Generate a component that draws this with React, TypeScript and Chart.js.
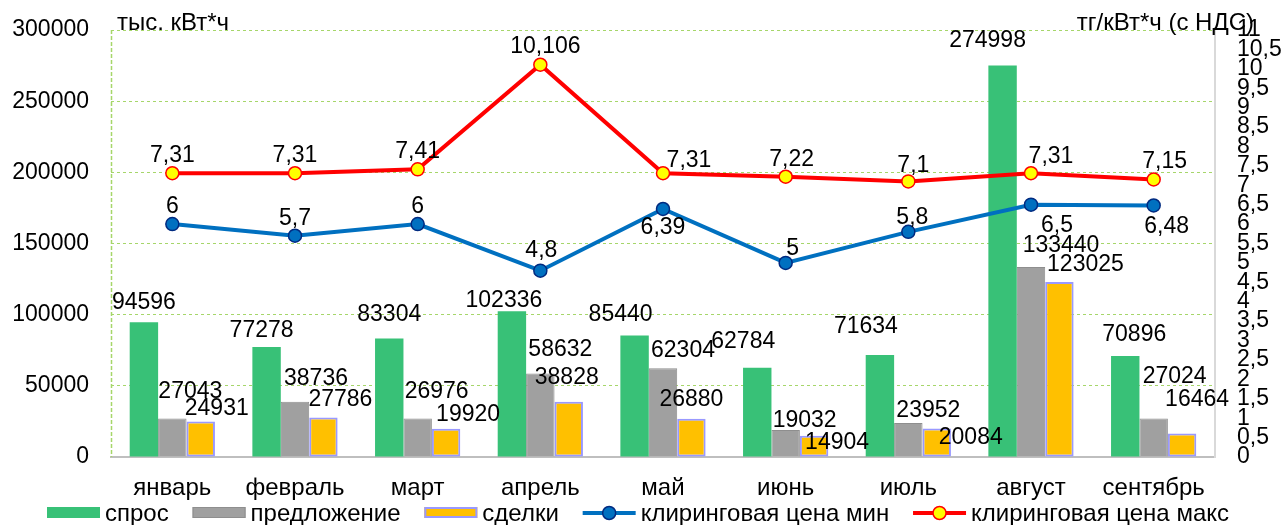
import React, { useEffect, useRef } from "react";
import { Chart, registerables } from "chart.js";

Chart.register(...registerables);

const months = ["январь", "февраль", "март", "апрель", "май", "июнь", "июль", "август", "сентябрь"];
const demand = [94596, 77278, 83304, 102336, 85440, 62784, 71634, 274998, 70896];
const supply = [27043, 38736, 26976, 58632, 62304, 19032, 23952, 133440, 27024];
const deals = [24931, 27786, 19920, 38828, 26880, 14904, 20084, 123025, 16464];
const priceMin = [6, 5.7, 6, 4.8, 6.39, 5, 5.8, 6.5, 6.48];
const priceMax = [7.31, 7.31, 7.41, 10.106, 7.31, 7.22, 7.1, 7.31, 7.15];

const leftTitle = "тыс. кВт*ч";
const rightTitle = "тг/кВт*ч (с НДС)";
const seriesNames = ["спрос", "предложение", "сделки", "клиринговая цена мин", "клиринговая цена макс"];

const W = 1284;
const H = 525;
const FONT_FAMILY = '"Liberation Sans", Arial, sans-serif';
const FONT = `23px ${FONT_FAMILY}`;
const TEXT_FONT = `24px ${FONT_FAMILY}`;

const GREEN = "#38C177";
const GRAY = "#A0A0A0";
const GRAY_BORDER = "#8E8E8E";
const YELLOW = "#FFC000";
const YELLOW_BORDER = "#9999FF";
const BLUE = "#0070C0";
const BLUE_BORDER = "#002A80";
const RED = "#FF0000";
const MARK_YELLOW = "#FFFF00";
const GRID = "#A6D66A";

// label offsets (dx, dy) relative to each mark (style only)
const labelOffsets: number[][][] = [
  [[0, -20], [-5, -16], [0, -24], [-8, -11], [-14, -21], [-14, -26], [-14, -28], [-15, -25], [9, -21]],
  [[18, -27], [21, -23], [19, -27], [20, -24], [20, -18], [19, -9], [20, -12], [30, -21], [21, -42]],
  [[16, -13], [17, -18], [22, -14], [-2, -24], [0, -19], [23, 7], [34, 9], [26, -17], [15, -34]],
  [[0, -17], [0, -17], [0, -17], [1, -20], [0, 19], [7, -14], [4, -14], [26, 21], [13, 21]],
  [[0, -18], [0, -18], [0, -18], [5, -18], [26, -13], [6, -17], [5, -16], [20, -17], [11, -18]],
];

const fmt = (v: number) => String(v).replace(".", ",");

const extrasPlugin = {
  id: "extras",
  beforeDatasetsDraw(chart: any) {
    const { ctx, chartArea } = chart;
    ctx.save();
    ctx.strokeStyle = GRID;
    ctx.lineWidth = 1.5;
    ctx.setLineDash([4, 2]);
    ctx.beginPath();
    ctx.moveTo(chartArea.left + 0.5, chartArea.top);
    ctx.lineTo(chartArea.left + 0.5, chartArea.bottom);
    ctx.stroke();
    ctx.restore();
  },
  afterDatasetsDraw(chart: any) {
    const ctx = chart.ctx;
    ctx.save();
    ctx.font = FONT;
    ctx.fillStyle = "#000";
    ctx.textAlign = "center";
    ctx.textBaseline = "middle";
    chart.data.datasets.forEach((ds: any, i: number) => {
      const meta = chart.getDatasetMeta(i);
      meta.data.forEach((el: any, j: number) => {
        const p = el.getProps(["x", "y"], true);
        const off = labelOffsets[i][j];
        ctx.fillText(fmt(ds.data[j]), p.x + off[0], p.y + off[1]);
      });
    });
    ctx.restore();
  },
  afterDraw(chart: any) {
    const ctx = chart.ctx;
    ctx.save();
    ctx.font = TEXT_FONT;
    ctx.fillStyle = "#000";
    ctx.textBaseline = "alphabetic";
    ctx.textAlign = "left";
    ctx.fillText(leftTitle, 117, 30);
    ctx.textAlign = "right";
    ctx.fillText(rightTitle, 1254, 30);

    // legend
    const boxW = 53;
    const gapBT = 5;
    const legendLeft = 47;
    const legendRight = 1229;
    const widths = seriesNames.map((n) => ctx.measureText(n).width);
    const used = widths.reduce((a, b) => a + b, 0) + seriesNames.length * (boxW + gapBT);
    const gapItems = (legendRight - legendLeft - used) / (seriesNames.length - 1);
    let x = legendLeft;
    const yc = 513;
    ctx.textAlign = "left";
    ctx.textBaseline = "middle";
    seriesNames.forEach((name, i) => {
      if (i === 0) {
        ctx.fillStyle = GREEN;
        ctx.fillRect(x, yc - 6, boxW, 11);
      } else if (i === 1) {
        ctx.fillStyle = GRAY;
        ctx.fillRect(x, yc - 6, boxW, 11);
        ctx.strokeStyle = GRAY_BORDER;
        ctx.lineWidth = 1;
        ctx.strokeRect(x + 0.5, yc - 5.5, boxW - 1, 10);
      } else if (i === 2) {
        ctx.fillStyle = YELLOW;
        ctx.fillRect(x, yc - 6, boxW, 11);
        ctx.strokeStyle = YELLOW_BORDER;
        ctx.lineWidth = 2;
        ctx.strokeRect(x + 1, yc - 5, boxW - 2, 9);
      } else {
        const lc = i === 3 ? BLUE : RED;
        const fc = i === 3 ? BLUE : MARK_YELLOW;
        const bc = i === 3 ? BLUE_BORDER : RED;
        ctx.strokeStyle = lc;
        ctx.lineWidth = 4;
        ctx.beginPath();
        ctx.moveTo(x, yc);
        ctx.lineTo(x + boxW, yc);
        ctx.stroke();
        ctx.beginPath();
        ctx.arc(x + boxW / 2, yc, 6.5, 0, Math.PI * 2);
        ctx.fillStyle = fc;
        ctx.fill();
        ctx.lineWidth = 1.5;
        ctx.strokeStyle = bc;
        ctx.stroke();
      }
      ctx.fillStyle = "#000";
      ctx.fillText(name, x + boxW + gapBT, yc + 1);
      x += boxW + gapBT + widths[i] + gapItems;
    });
    ctx.restore();
  },
};

export default function App() {
  const ref = useRef<HTMLCanvasElement | null>(null);

  useEffect(() => {
    if (!ref.current) return;
    const chart = new Chart(ref.current, {
      type: "bar",
      data: {
        labels: months,
        datasets: [
          {
            type: "bar",
            label: seriesNames[0],
            data: demand,
            backgroundColor: GREEN,
            borderWidth: 0,
            yAxisID: "y",
            order: 1,
            categoryPercentage: 0.695,
            barPercentage: 1,
          },
          {
            type: "bar",
            label: seriesNames[1],
            data: supply,
            backgroundColor: GRAY,
            borderColor: GRAY_BORDER,
            borderWidth: 1,
            borderSkipped: "bottom",
            yAxisID: "y",
            order: 1,
            categoryPercentage: 0.695,
            barPercentage: 1,
          },
          {
            type: "bar",
            label: seriesNames[2],
            data: deals,
            backgroundColor: YELLOW,
            borderColor: YELLOW_BORDER,
            borderWidth: 2,
            borderSkipped: false,
            yAxisID: "y",
            order: 1,
            categoryPercentage: 0.695,
            barPercentage: 1,
          },
          {
            type: "line",
            label: seriesNames[3],
            data: priceMin,
            borderColor: BLUE,
            backgroundColor: BLUE,
            borderWidth: 4,
            pointRadius: 6.5,
            pointBackgroundColor: BLUE,
            pointBorderColor: BLUE_BORDER,
            pointBorderWidth: 1.5,
            tension: 0,
            yAxisID: "y1",
            order: 0,
          },
          {
            type: "line",
            label: seriesNames[4],
            data: priceMax,
            borderColor: RED,
            backgroundColor: RED,
            borderWidth: 4,
            pointRadius: 6.5,
            pointBackgroundColor: MARK_YELLOW,
            pointBorderColor: RED,
            pointBorderWidth: 1.5,
            tension: 0,
            yAxisID: "y1",
            order: 0,
          },
        ] as any,
      },
      options: {
        responsive: false,
        animation: false,
        devicePixelRatio: 1,
        layout: { padding: { left: 0, right: 0, top: 30, bottom: 0 } },
        plugins: {
          legend: { display: false },
          tooltip: { enabled: false },
          title: { display: false },
        },
        scales: {
          x: {
            grid: { display: false },
            border: { display: true, color: "#BFBFBF", width: 2 },
            ticks: {
              font: { family: FONT_FAMILY, size: 24 },
              color: "#000",
              padding: 9,
              maxRotation: 0,
              autoSkip: false,
            },
            afterFit: (s: any) => {
              s.height = 68;
              s.paddingLeft = 0;
              s.paddingRight = 0;
            },
          },
          y: {
            position: "left",
            min: 0,
            max: 300000,
            grid: {
              color: GRID,
              lineWidth: 1,
              drawTicks: false,
            },
            border: { display: false, dash: [3, 3] },
            ticks: {
              stepSize: 50000,
              font: { family: FONT_FAMILY, size: 23 },
              color: "#000",
              padding: 22,
              callback: (v: any) => String(v),
            },
            afterFit: (s: any) => {
              s.width = 111;
              s.paddingTop = 0;
              s.paddingBottom = 0;
            },
          },
          y1: {
            position: "right",
            min: 0,
            max: 11,
            grid: { display: false, drawTicks: false },
            border: { display: true, color: "#D9D9D9", width: 2 },
            ticks: {
              stepSize: 0.5,
              autoSkip: false,
              maxTicksLimit: 40,
              font: { family: FONT_FAMILY, size: 23, lineHeight: 1 },
              color: "#000",
              padding: 22,
              callback: (v: any) => fmt(Number(v)),
            },
            afterFit: (s: any) => {
              s.width = 69;
              s.paddingTop = 0;
              s.paddingBottom = 0;
            },
          },
        },
      } as any,
      plugins: [extrasPlugin],
    });
    return () => chart.destroy();
  }, []);

  return (
    <div style={{ position: "fixed", left: 0, top: 0, width: W, height: H, background: "#fff" }}>
      <canvas ref={ref} width={W} height={H} style={{ width: W, height: H, display: "block" }} />
    </div>
  );
}
